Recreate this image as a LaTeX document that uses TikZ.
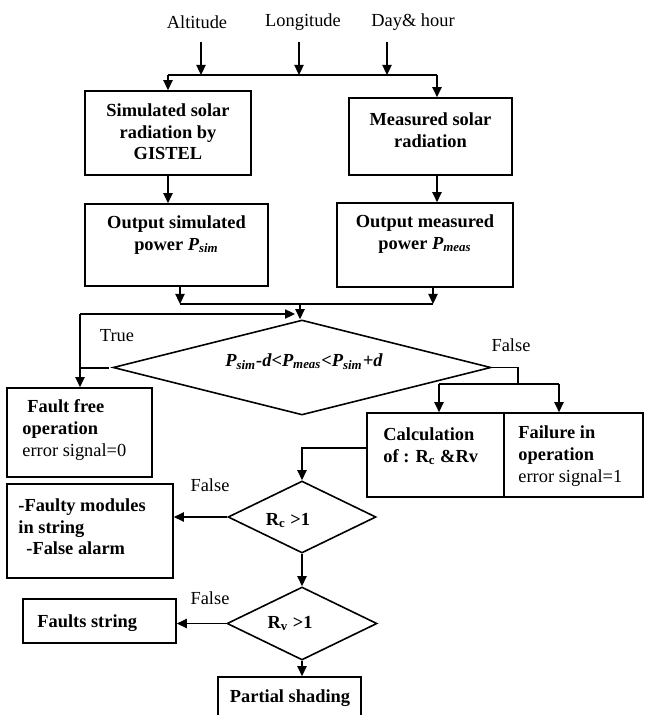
\documentclass[tikz,border=0pt]{standalone}
\usepackage{fontspec}
\setmainfont{Liberation Serif}
\usetikzlibrary{arrows.meta,shapes.geometric}

\tikzset{
  box/.style={draw, line width=0.8pt, inner sep=0pt},
  cond/.style={draw, diamond, line width=0.8pt, inner sep=0pt},
  lbl/.style={inner sep=0pt, font=\fontsize{9.2}{10.8}\selectfont},
  txt/.style={inner sep=0pt, font=\fontsize{9.2}{10.8}\selectfont\bfseries, align=center},
  ltxt/.style={txt, align=left, anchor=west},
  line/.style={line width=0.8pt},
  arr/.style={line, -{Triangle[length=5pt,width=4.6pt]}},
}

\begin{document}
\begin{tikzpicture}[x=0.5pt,y=-0.5pt]
\useasboundingbox (0,0) rectangle (645,715);
\clip (0,0) rectangle (645,715);

\node[lbl] (alt) at (197,22) {Altitude};
\node[lbl] (lon) at (303,22) {Longitude};
\node[lbl] (day) at (413,22) {Day\& hour};

\coordinate (a1) at (201,42);
\coordinate (a2) at (299,42);
\coordinate (a3) at (387,42);
\coordinate (busL) at (168,75);
\coordinate (busR) at (437,75);

\node[box, minimum width=83pt, minimum height=42pt] (sim) at (168,133) {};
\node[box, minimum width=81.5pt, minimum height=38.5pt] (meas) at (430.5,136.5) {};
\node[box, minimum width=91.5pt, minimum height=41pt] (outsim) at (176.5,245) {};
\node[box, minimum width=88pt, minimum height=42pt] (outmeas) at (425,245) {};
\node[box, minimum width=72.5pt, minimum height=44.5pt] (ff) at (79.5,432.5) {};
\node[box, minimum width=68.5pt, minimum height=42pt] (calc) at (435.5,455) {};
\node[box, minimum width=69.5pt, minimum height=42pt] (fail) at (573.5,455) {};
\node[box, minimum width=83pt, minimum height=47pt] (faulty) at (90,531) {};
\node[box, minimum width=76.5pt, minimum height=22pt] (faults) at (99.5,621) {};
\node[box, minimum width=71.5pt, minimum height=31.5pt] (partial) at (289.5,708.5) {};

\node[cond, minimum width=189pt, minimum height=47.5pt] (chk) at (302,367.5) {};
\node[cond, minimum width=74pt, minimum height=36pt] (rc) at (302,517) {};
\node[cond, minimum width=75pt, minimum height=36.5pt] (rv) at (302,623.5) {};

\node[txt] (simt) at (168,132) {Simulated solar\\radiation by\\GISTEL};
\node[txt] (meast) at (430.5,130) {Measured solar\\radiation};
\node[txt] (outsimt) at (176.5,235) {Output simulated\\power \textit{P\textsubscript{sim}}};
\node[txt] (outmeast) at (425,234) {Output measured\\power \textit{P\textsubscript{meas}}};
\node[txt] (chkt) at (304,362) {\textit{P\textsubscript{sim}-d<P\textsubscript{meas}<P\textsubscript{sim}+d}};
\node[ltxt] (fft) at (22,430) {\hspace*{2.5pt}Fault free\\operation\\\mdseries error signal=0};
\node[ltxt] (calct) at (383,446) {Calculation\\of : R\textsubscript{c} \&Rv};
\node[ltxt] (failt) at (518,456) {Failure in\\operation\\\mdseries error signal=1};
\node[ltxt] (faultyt) at (18,527) {-Faulty modules\\in string\\\hspace*{4pt}-False alarm};
\node[txt] (rct) at (288,520) {R\textsubscript{c} >1};
\node[txt] (rvt) at (290,623) {R\textsubscript{v} >1};
\node[ltxt] (faultst) at (37,623) {Faults string};
\node[txt] (partt) at (290,698) {Partial shading};

\node[lbl] (tr) at (117,336) {True};
\node[lbl] (fa1) at (511,345) {False};
\node[lbl] (fa2) at (210,485) {False};
\node[lbl] (fa3) at (210,598) {False};

\draw[arr] (a1) -- (a1 |- busL);
\draw[arr] (a2) -- (a2 |- busL);
\draw[arr] (a3) -- (a3 |- busL);
\draw[line] (busL) -- (busR);
\draw[arr] (busL) -- (busL |- sim.north);
\draw[arr] (busR) -- (busR |- meas.north);
\draw[arr] (busL |- sim.south) -- (busL |- outsim.north);
\draw[arr] (busR |- meas.south) -- (busR |- outmeas.north);

\coordinate (m1) at (180,304);
\coordinate (m2) at (433,304);
\coordinate (m3) at (300,304);
\draw[arr] (m1 |- outsim.south) -- (m1);
\draw[arr] (m2 |- outmeas.south) -- (m2);
\draw[line] (m1) -- (m2);
\draw[arr] (m3) -- (m3 |- chk.north);

\coordinate (t1) at (80,314);
\coordinate (t2) at (295,314);
\coordinate (t3) at (109,368);
\draw[arr] (t1) -- (t2);
\draw[arr] (t1) -- (t1 |- ff.north);
\draw[line] (t1 |- t3) -- (t3);

\coordinate (f1) at (518,384);
\coordinate (f2) at (439,384);
\coordinate (f3) at (559,384);
\draw[line] (chk.east) -| (f1);
\draw[line] (f2) -- (f3);
\draw[arr] (f2) -- (f2 |- calc.north);
\draw[arr] (f3) -- (f3 |- fail.north);

\coordinate (c1) at (302,448);
\draw[arr] (calc.west |- c1) -- (c1) -- (c1 |- rc.north);
\draw[arr] (rc.west) -- (rc.west -| faulty.east);
\draw[arr] (rc.south) -- (rv.north);
\draw[arr] (rv.west) -- (rv.west -| faults.east);
\draw[arr] (rv.south) -- (rv.south |- partial.north);
\end{tikzpicture}
\end{document}
